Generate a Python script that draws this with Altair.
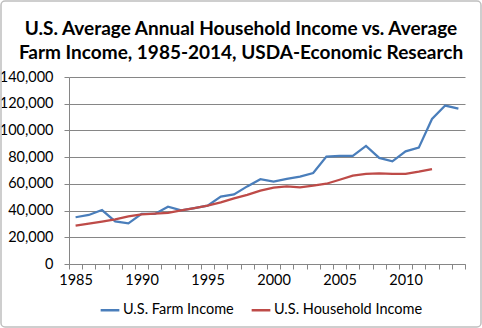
import altair as alt
import pandas as pd

years = list(range(1985, 2015))
farm_income = [35000, 36700, 40400, 31900, 30400, 37500, 37500, 42900, 40200, 41900,
               43700, 50400, 52100, 58100, 63500, 61600, 63700, 65400, 68100, 80400,
               80900, 81000, 88400, 79400, 76900, 84300, 87100, 108600, 118600, 116300]
household_income = [28700, 30200, 31700, 33400, 35700, 37200, 37700, 38200, 40200, 41900,
                     43700, 46100, 49100, 51700, 54900, 57100, 58100, 57400, 58600, 60100,
                     63100, 66100, 67400, 67900, 67400, 67400, 69100, 71100, None, None]
series_names = ["U.S. Farm Income", "U.S. Household Income"]
colors = ["#4A7EBB", "#BE4B48"]
title_lines = ["U.S. Average Annual Household Income vs. Average",
               "Farm Income, 1985-2014, USDA-Economic Research"]

rows = []
for i, y in enumerate(years):
    rows.append({"Year": y, "Series": series_names[0], "Value": farm_income[i]})
    if household_income[i] is not None:
        rows.append({"Year": y, "Series": series_names[1], "Value": household_income[i]})
df = pd.DataFrame(rows)

FONT = "Lato"

lines = alt.Chart(df).mark_line(strokeWidth=2.25).encode(
    x=alt.X("Year:O", title=None,
            scale=alt.Scale(paddingInner=0, paddingOuter=0),
            axis=alt.Axis(labelAngle=0, tickBand="extent", labelOverlap=False,
                          labelExpr="datum.value % 5 == 0 ? datum.value : ''",
                          domainColor="#868686", tickColor="#868686", tickSize=5,
                          labelFont=FONT, labelFontSize=14.5, labelColor="#000000",
                          labelPadding=4, grid=False)),
    y=alt.Y("Value:Q", title=None,
            scale=alt.Scale(domain=[0, 140000], nice=False),
            axis=alt.Axis(values=list(range(0, 140001, 20000)), format=",.0f",
                          domainColor="#868686", tickColor="#868686", tickSize=5,
                          gridColor="#868686", gridWidth=1,
                          labelFont=FONT, labelFontSize=14.5, labelColor="#000000",
                          labelPadding=11)),
    color=alt.Color("Series:N",
                    scale=alt.Scale(domain=series_names, range=colors),
                    legend=alt.Legend(title=None, orient="none", direction="horizontal",
                                      legendX=30, legendY=222,
                                      symbolType="stroke", symbolStrokeWidth=2.5,
                                      symbolSize=350, labelFont=FONT, labelFontSize=14.5,
                                      labelColor="#000000", columnPadding=12,
                                      labelOffset=2)),
)

frame = alt.Chart(pd.DataFrame({"a": [0]})).mark_rect(
    fill=None, stroke="#BFBFBF", strokeWidth=1.5, cornerRadius=4
).encode(x=alt.value(-68), x2=alt.value(412), y=alt.value(-76), y2=alt.value(250))

chart = alt.layer(frame, lines).properties(
    width=396, height=187,
    padding={"left": 69, "top": 77, "right": 17, "bottom": 64},
    autosize=alt.AutoSizeParams(type="none"),
    title=alt.TitleParams(text=title_lines, font=FONT, fontSize=19, fontWeight="bold",
                          color="#000000", anchor="middle", frame="group", dx=-26,
                          offset=0, dy=63, lineHeight=24),
).configure_view(stroke=None)

chart.save("out.html", embed_options={"renderer": "svg", "actions": False})
